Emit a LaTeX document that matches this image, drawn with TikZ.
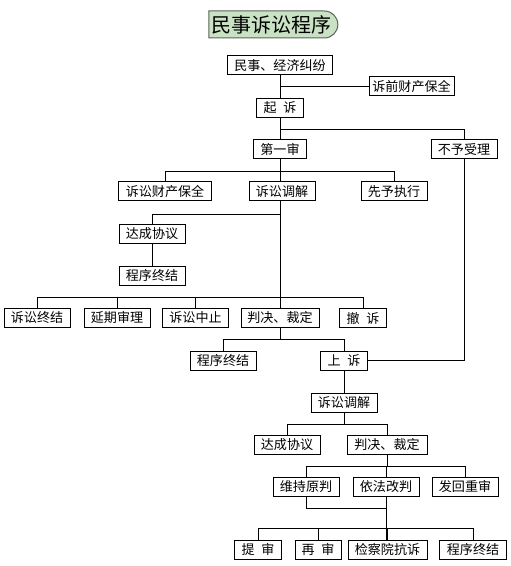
\documentclass[tikz,border=0pt]{standalone}
\usepackage{fontspec}
\newfontfamily\cjk{Noto Sans CJK SC}
\usepackage{tikz}
\usetikzlibrary{shapes.misc}
\definecolor{titlegreen}{RGB}{201,226,196}
\definecolor{titleline}{RGB}{90,100,90}

\begin{document}
\begin{tikzpicture}[x=0.75pt,y=0.75pt,yscale=-1,xscale=1,
  box/.style={draw, line width=0.75pt, inner sep=0pt, minimum height=14.25pt,
    font=\cjk\fontsize{9.8}{11}\selectfont},
  bw/.style={minimum width=#1*0.75pt},
  link/.style={line width=0.75pt}]
\useasboundingbox (0,0) rectangle (510,566);

% Title
\node[rounded rectangle, rounded rectangle west arc=none, draw=titleline, fill=titlegreen,
  line width=0.75pt, minimum width=96.75pt, minimum height=20.25pt, inner sep=0pt,
  font=\cjk\fontsize{15}{17}\selectfont] (title) at (271.5,24.5) {民事诉讼程序};

% Text Nodes
\node[box, bw=105] (mjjf) at (280,65.5) {民事、经济纠纷};
\node[box, bw=85] (sqbq) at (411.5,86.5) {诉前财产保全};
\node[box, bw=47] (qisu) at (280,108) {起\enspace 诉};
\node[box, bw=53] (diyi) at (280,149.5) {第一审};
\node[box, bw=66] (bysl) at (464,149.5) {不予受理};

\node[box, bw=93] (ssbq) at (165,191.5) {诉讼财产保全};
\node[box, bw=66] (sstj) at (282,191.5) {诉讼调解};
\node[box, bw=66] (xyzx) at (394,191.5) {先予执行};

\node[box, bw=66] (dcxy) at (152,234) {达成协议};
\node[box, bw=66] (cxzj) at (152,276) {程序终结};

\node[box, bw=66] (sszj) at (37,318) {诉讼终结};
\node[box, bw=66] (yqsl) at (117,318) {延期审理};
\node[box, bw=66] (sszz) at (195.5,318) {诉讼中止};
\node[box, bw=78] (pjcd) at (280,318) {判决、裁定};
\node[box, bw=47] (chesu) at (363,318) {撤\enspace 诉};

\node[box, bw=66] (cxzjb) at (223,360.5) {程序终结};
\node[box, bw=47] (shangsu) at (344,360.5) {上\enspace 诉};

\node[box, bw=66] (sstjb) at (344,402.5) {诉讼调解};
\node[box, bw=66] (dcxyb) at (287,444.5) {达成协议};
\node[box, bw=80] (pjcdb) at (387,444.5) {判决、裁定};

\node[box, bw=66] (wcyp) at (306,486.5) {维持原判};
\node[box, bw=66] (yfgp) at (386,486.5) {依法改判};
\node[box, bw=66] (fhcs) at (465,486.5) {发回重审};

\node[box, bw=47] (tishen) at (258,549.5) {提\enspace 审};
\node[box, bw=46] (zaishen) at (318,549.5) {再\enspace 审};
\node[box, bw=79] (jcyks) at (387.5,549.5) {检察院抗诉};
\node[box, bw=67] (cxzjc) at (473,549.5) {程序终结};

% Straight Lines
\draw[link] (mjjf) -- (qisu);
\draw[link] (mjjf.south |- sqbq) -- (sqbq.west);
\draw[link] (qisu) -- (diyi);
\draw[link] (qisu.south) -- ++(0,12) -| (bysl.north);
\draw[link] (diyi.south) -- (diyi.south |- sstj.north);
\draw[link] (diyi.south) -- ++(0,12) -| (ssbq.north);
\draw[link] (diyi.south) -- ++(0,12) -| (xyzx.north);
\draw[link] (sstj.south -| diyi) -- (pjcd.north);
\draw[link] (sstj.south -| diyi) -- ++(0,13) -| (dcxy.north);
\draw[link] (dcxy) -- (cxzj);
\draw[link] (pjcd.north) -- ++(0,-11) -| (sszj.north);
\draw[link] (pjcd.north) -- ++(0,-11) -| (yqsl.north);
\draw[link] (pjcd.north) -- ++(0,-11) -| (sszz.north);
\draw[link] (pjcd.north) -- ++(0,-11) -| (chesu.north);
\draw[link] (pjcd.south) -- ++(0,11) -| (cxzjb.north);
\draw[link] (pjcd.south) -- ++(0,11) -| (shangsu.north);
\draw[link] (bysl.south) |- (shangsu.east);
\draw[link] (shangsu) -- (sstjb);
\draw[link] (sstjb.south) -- ++(0,12) -| (dcxyb.north);
\draw[link] (sstjb.south) -- ++(0,12) -| (pjcdb.north);
\draw[link] (pjcdb.south) -- ++(0,12) -| (wcyp.north);
\draw[link] (pjcdb.south) -- ++(0,12) -| (yfgp.north);
\draw[link] (pjcdb.south) -- ++(0,12) -| (fhcs.north);
\draw[link] (wcyp.south) -- ++(0,12) -| (yfgp.south);
\draw[link] (yfgp.south) -- (yfgp.south |- jcyks.north);
\draw[link] (jcyks.north) -- ++(0,-11) -| (tishen.north);
\draw[link] (jcyks.north) -- ++(0,-11) -| (zaishen.north);
\draw[link] (jcyks.north) -- ++(0,-11) -| (cxzjc.north);

\end{tikzpicture}
\end{document}
